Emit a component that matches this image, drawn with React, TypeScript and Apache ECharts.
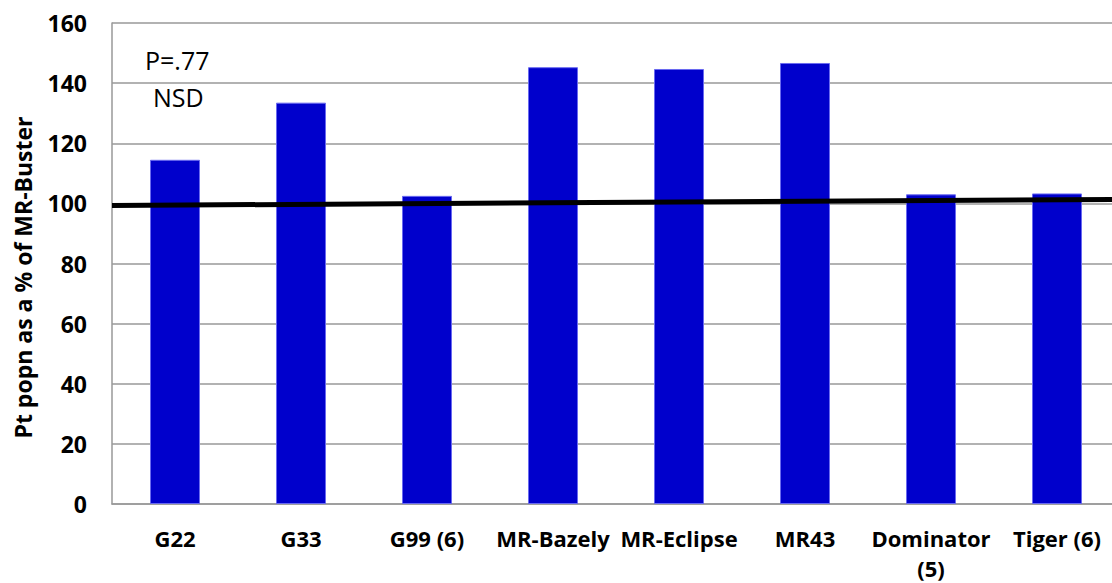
import React, { useEffect, useRef } from "react";
import * as echarts from "echarts";

const categories = ["G22", "G33", "G99 (6)", "MR-Bazely", "MR-Eclipse", "MR43", "Dominator\n(5)", "Tiger (6)"];
const values = [114.5, 133.5, 102.5, 145.3, 144.7, 146.7, 103.0, 103.3];
const trendLine = [[0, 99.3], [8, 101.3]];
const yTicks = { min: 0, max: 160, interval: 20 };
const annotations = ["P=.77", "NSD"];
const yTitle = "Pt popn as a % of MR-Buster";

const FONT = "'Open Sans', sans-serif";

export default function App() {
  const ref = useRef<HTMLDivElement>(null);
  useEffect(() => {
    const chart = echarts.init(ref.current!, null, { renderer: "svg" });
    chart.setOption({
      animation: false,
      backgroundColor: "#ffffff",
      grid: { left: 112, top: 23, bottom: 78.5, right: 0, containLabel: false },
      xAxis: [
        {
          type: "category",
          data: categories,
          boundaryGap: true,
          axisLine: { show: true, lineStyle: { color: "#999999", width: 1.5 } },
          axisTick: { show: false },
          axisLabel: {
            color: "#000",
            fontFamily: FONT,
            fontWeight: "bold",
            fontSize: 22,
            margin: 19,
            lineHeight: 30,
            interval: 0,
          },
        },
        { type: "value", min: 0, max: 8, show: false },
      ],
      yAxis: {
        type: "value",
        min: yTicks.min,
        max: yTicks.max,
        interval: yTicks.interval,
        axisLine: { show: true, lineStyle: { color: "#999999", width: 1.5 } },
        axisTick: { show: false },
        splitLine: { show: true, lineStyle: { color: "#999999", width: 1.5 } },
        axisLabel: {
          color: "#000",
          fontFamily: FONT,
          fontWeight: "bold",
          fontSize: 23,
          margin: 25,
        },
      },
      series: [
        {
          type: "bar",
          data: values,
          barWidth: 50,
          itemStyle: { color: "#0000CC", borderColor: "#6a6af0", borderWidth: 1 },
          xAxisIndex: 0,
        },
        {
          type: "line",
          xAxisIndex: 1,
          data: trendLine,
          symbol: "none",
          lineStyle: { color: "#000000", width: 5 },
          z: 5,
        },
      ],
      graphic: [
        {
          type: "text",
          x: 23,
          y: 277.5,
          rotation: Math.PI / 2,
          style: {
            text: yTitle,
            fill: "#000",
            font: `bold 23px ${FONT}`,
            align: "center",
            verticalAlign: "middle",
          },
        },
        {
          type: "text",
          left: 145,
          top: 47,
          style: { text: annotations[0], fill: "#000", font: `25px ${FONT}` },
        },
        {
          type: "text",
          left: 153,
          top: 84,
          style: { text: annotations[1], fill: "#000", font: `25px ${FONT}` },
        },
      ],
    });
    return () => chart.dispose();
  }, []);
  return (
    <div style={{ position: "fixed", left: 0, top: 0, width: 1112, height: 583, overflow: "hidden", background: "#fff" }}>
      <div ref={ref} style={{ width: 1120, height: 583 }} />
    </div>
  );
}
